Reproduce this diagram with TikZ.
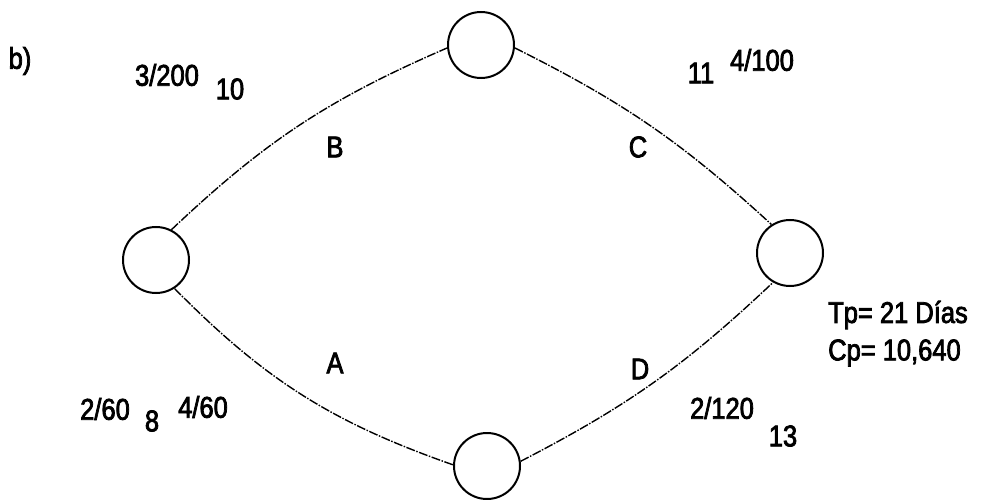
\documentclass[tikz,border=0pt]{standalone}
\usepackage{fontspec}
\setmainfont{Liberation Sans}[FakeStretch=0.85,FakeBold=2.5]
\begin{document}
\begin{tikzpicture}[x=1pt,y=1pt,
  evento/.style={draw,circle,line width=2pt,minimum size=66pt,inner sep=0pt},
  actividad/.style={line width=1.4pt,dash pattern=on 9pt off 1.5pt on 1.5pt off 1.5pt},
  rotulo/.style={inner sep=0pt,font=\fontsize{30}{34}\selectfont}]
  \useasboundingbox (0,0) rectangle (988,-500);
  \node[evento] (n1) at (156,-260) {};
  \node[evento] (n2) at (481,-45) {};
  \node[evento] (n3) at (790,-253) {};
  \node[evento] (n4) at (487,-466) {};
  \draw[actividad] (n1.63) to[bend left=10] (n2.185);
  \draw[actividad] (n2.-5) to[bend left=8] (n3.123);
  \draw[actividad] (n1.-57) to[bend right=13] (n4.178);
  \draw[actividad] (n4.8) to[bend right=8] (n3.240);
  \node[rotulo] (inciso) at (20,-61) {b)};
  \node[rotulo] (durB) at (167,-75) {3/200};
  \node[rotulo] (iniB) at (230,-89) {10};
  \node[rotulo] (actB) at (335,-147) {B};
  \node[rotulo] (actC) at (638,-147) {C};
  \node[rotulo] (iniC) at (701,-73) {11};
  \node[rotulo] (durC) at (762,-60) {4/100};
  \node[rotulo] (actA) at (335,-363) {A};
  \node[rotulo] (durA1) at (105,-409) {2/60};
  \node[rotulo] (iniA) at (152,-421) {8};
  \node[rotulo] (durA2) at (203,-407) {4/60};
  \node[rotulo] (actD) at (640,-369) {D};
  \node[rotulo] (durD) at (722,-408) {2/120};
  \node[rotulo] (iniD) at (783,-436) {13};
  \node[rotulo,anchor=west] (tiempo) at (828,-315) {Tp= 21 Días};
  \node[rotulo,anchor=west] (costo) at (828,-353) {Cp= 10,640};
\end{tikzpicture}
\end{document}
